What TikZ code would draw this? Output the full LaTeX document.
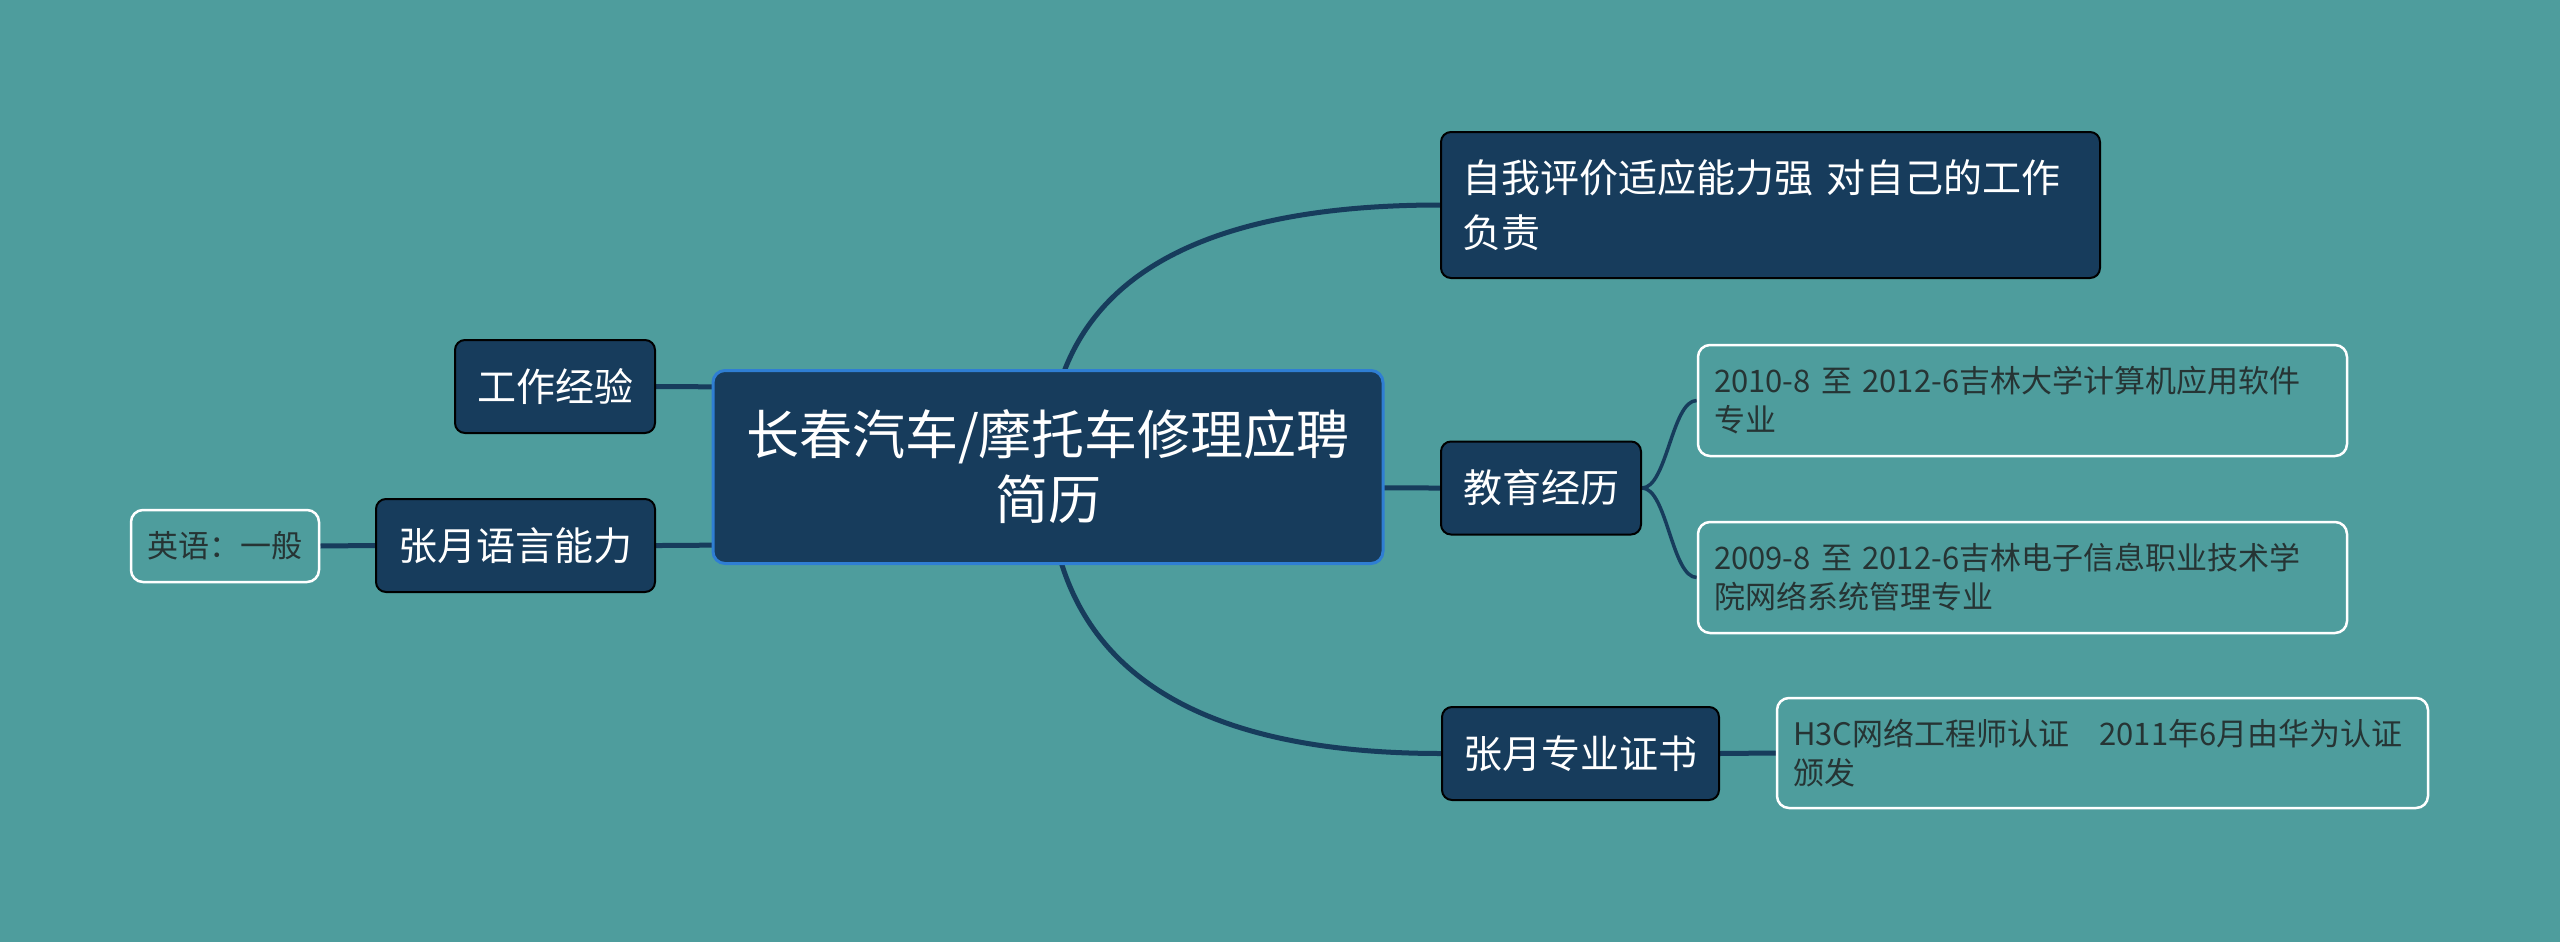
\documentclass[tikz,border=0pt]{standalone}
\usepackage{fontspec}
\setmainfont{Noto Sans CJK SC}
\usetikzlibrary{calc}
\pgfdeclarelayer{backdrop}
\pgfdeclarelayer{bg}
\pgfsetlayers{backdrop,bg,main}
\definecolor{bgc}{HTML}{4E9D9D}
\definecolor{navy}{HTML}{173C5C}
\definecolor{rootb}{HTML}{2F7ED3}
\definecolor{subtxt}{HTML}{263434}
\tikzset{
 rootbox/.style={draw=rootb, line width=3pt, fill=navy, rounded corners=12pt, text=white, align=center,
   font=\fontsize{53}{65}\selectfont, minimum width=670pt, minimum height=193pt, inner sep=0pt},
 mainbox/.style={draw=black, line width=2pt, fill=navy, rounded corners=10pt, text=white,
   font=\fontsize{39}{55}\selectfont, inner sep=0pt, minimum height=93pt},
 subbox/.style={draw=white, line width=2.5pt, rounded corners=12pt, text=subtxt,
   font=\fontsize{31}{39}\selectfont, inner ysep=0pt},
 link/.style={draw=navy, line width=5pt},
}
\begin{document}
\begin{tikzpicture}[x=1pt,y=-1pt]
\begin{pgfonlayer}{backdrop}
\fill[bgc] (0,0) rectangle (2560,942);
\end{pgfonlayer}
\useasboundingbox (0,0) rectangle (2560,942);

\node[rootbox] (root) at (1048,467) {长春汽车/摩托车修理应聘\\简历};

\node[mainbox, minimum width=659pt, minimum height=146pt, inner xsep=21pt, text width=617pt, align=left]
  (self) at (1770.5,205) {\mbox{自我评价适应能力强 对自己的工作}\\负责};
\node[mainbox, minimum width=200pt] (edu) at (1541,488) {教育经历};
\node[mainbox, minimum width=277pt] (cert) at (1580.5,753.5) {张月专业证书};
\node[mainbox, minimum width=200pt] (work) at (555,386.5) {工作经验};
\node[mainbox, minimum width=279pt] (lang) at (515.5,545.5) {张月语言能力};

\node[subbox, minimum width=188pt, minimum height=72pt, inner xsep=0pt] (eng) at (225,546) {英语：一般};
\node[subbox, minimum height=111pt, inner xsep=16pt, text width=617pt, align=left]
  (e1) at (2022.5,400.5) {\mbox{2010-8 至 2012-6吉林大学计算机应用软件}\\专业};
\node[subbox, minimum height=111pt, inner xsep=16pt, text width=617pt, align=left]
  (e2) at (2022.5,577.5) {\mbox{2009-8 至 2012-6吉林电子信息职业技术学}\\院网络系统管理专业};
\node[subbox, minimum height=110pt, inner xsep=16pt, text width=619pt, align=left]
  (c1) at (2102.5,753) {\mbox{H3C网络工程师认证\hspace*{30pt}2011年6月由华为认证}\\颁发};

\coordinate (kself) at (root.center |- self.west);
\coordinate (kedu) at (root.center |- edu.west);
\coordinate (kcert) at (root.center |- cert.west);
\coordinate (kwork) at (root.center |- work.east);
\coordinate (klang) at (root.center |- lang.east);

\begin{pgfonlayer}{bg}
\draw[link] (root.center) .. controls ($(root.center)!0.667!(kself)$) and ($(self.west)!0.667!(kself)$) .. (self.west);
\draw[link] (root.center) .. controls ($(root.center)!0.667!(kedu)$) and ($(edu.west)!0.667!(kedu)$) .. (edu.west);
\draw[link] (root.center) .. controls ($(root.center)!0.667!(kcert)$) and ($(cert.west)!0.667!(kcert)$) .. (cert.west);
\draw[link] (root.center) .. controls ($(root.center)!0.667!(kwork)$) and ($(work.east)!0.667!(kwork)$) .. (work.east);
\draw[link] (root.center) .. controls ($(root.center)!0.667!(klang)$) and ($(lang.east)!0.667!(klang)$) .. (lang.east);
\draw[link] (lang.west) -- (eng.east);
\draw[link, line width=3.5pt] (edu.east) .. controls +(25,0) and +(-25,0) .. (e1.west);
\draw[link, line width=3.5pt] (edu.east) .. controls +(25,0) and +(-25,0) .. (e2.west);
\draw[link] (cert.east) -- (c1.west);
\end{pgfonlayer}
\end{tikzpicture}
\end{document}
